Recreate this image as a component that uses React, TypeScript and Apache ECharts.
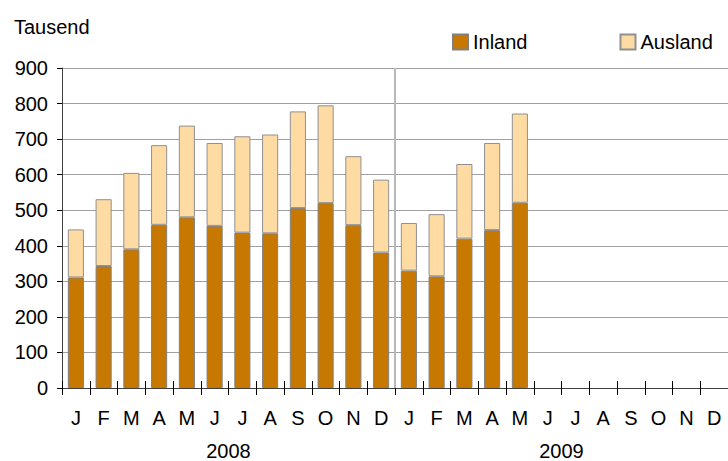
import React, { useEffect, useRef } from "react";
import * as echarts from "echarts";

const months = ["J", "F", "M", "A", "M", "J", "J", "A", "S", "O", "N", "D", "J", "F", "M", "A", "M", "J", "J", "A", "S", "O", "N", "D"];
const years = ["2008", "2009"];
const inland: (number | null)[] = [311, 343, 390, 459, 480, 456, 437, 435, 506, 520, 458, 381, 330, 314, 420, 444, 521, null, null, null, null, null, null, null];
const total: (number | null)[] = [446, 531, 605, 683, 738, 689, 708, 713, 778, 795, 652, 586, 464, 489, 630, 689, 772, null, null, null, null, null, null, null];
const ausland = total.map((t, i) => (t == null || inland[i] == null ? null : t - (inland[i] as number)));
const yTicks = { min: 0, max: 900, interval: 100 };

const FONT = "'Liberation Sans', Arial, sans-serif";

export default function App() {
  const ref = useRef<HTMLDivElement>(null);
  useEffect(() => {
    if (!ref.current) return;
    const chart = echarts.init(ref.current, undefined, { renderer: "svg" });
    chart.setOption({
      animation: false,
      textStyle: { fontFamily: FONT, color: "#000" },
      title: {
        text: "Tausend",
        left: 9,
        top: 12,
        textStyle: { fontFamily: FONT, fontSize: 20, fontWeight: "normal", color: "#000" },
      },
      legend: {
        data: ["Inland", "Ausland"],
        left: 447,
        top: 27,
        itemWidth: 15,
        itemHeight: 15,
        itemGap: 92,
        icon: "rect",
        textStyle: { fontFamily: FONT, fontSize: 20, color: "#000" },
      },
      grid: { left: 62, right: -6, top: 68, bottom: 70, containLabel: false },
      xAxis: [
        {
          type: "category",
          data: months,
          position: "bottom",
          boundaryGap: true,
          axisLine: { show: true, lineStyle: { color: "#404040", width: 1 } },
          axisTick: { show: true, length: 7, alignWithLabel: false, lineStyle: { color: "#000" } },
          axisLabel: { fontFamily: FONT, fontSize: 20, color: "#000", margin: 20, interval: 0 },
        },
        {
          type: "category",
          data: years,
          position: "bottom",
          axisLine: { show: false },
          axisTick: { show: false },
          axisLabel: { fontFamily: FONT, fontSize: 20, color: "#000", margin: 53 },
        },
        {
          type: "category",
          data: months,
          position: "bottom",
          axisLine: { show: false },
          axisTick: { show: true, inside: true, length: 7, lineStyle: { color: "#000" } },
          axisLabel: { show: false },
        },
        {
          type: "value",
          min: 0,
          max: 24,
          show: false,
        },
      ],
      yAxis: {
        type: "value",
        min: yTicks.min,
        max: yTicks.max,
        interval: yTicks.interval,
        axisLine: { show: true, lineStyle: { color: "#404040", width: 1 } },
        axisTick: { show: true, length: 5, lineStyle: { color: "#000" } },
        axisLabel: { fontFamily: FONT, fontSize: 20, color: "#000", margin: 14 },
        splitLine: { show: true, lineStyle: { color: "#A0A0A0", width: 1 } },
      },
      series: [
        {
          name: "Inland",
          type: "bar",
          stack: "a",
          xAxisIndex: 0,
          data: inland,
          barWidth: "58%",
          itemStyle: { color: "#C77800", borderColor: "#808080", borderWidth: 1 },
        },
        {
          name: "Ausland",
          type: "bar",
          stack: "a",
          xAxisIndex: 0,
          data: ausland,
          barWidth: "58%",
          itemStyle: { color: "#FFDBA4", borderColor: "#909090", borderWidth: 1 },
        },
        {
          name: "sep",
          type: "line",
          xAxisIndex: 3,
          data: [[12, 0], [12, 900]],
          symbol: "none",
          silent: true,
          lineStyle: { color: "#B8B8B8", width: 2 },
        },
      ],
    });
    return () => chart.dispose();
  }, []);
  return (
    <div
      ref={ref}
      style={{ position: "absolute", left: 0, top: 0, width: 728, height: 461, background: "#fff" }}
    />
  );
}
